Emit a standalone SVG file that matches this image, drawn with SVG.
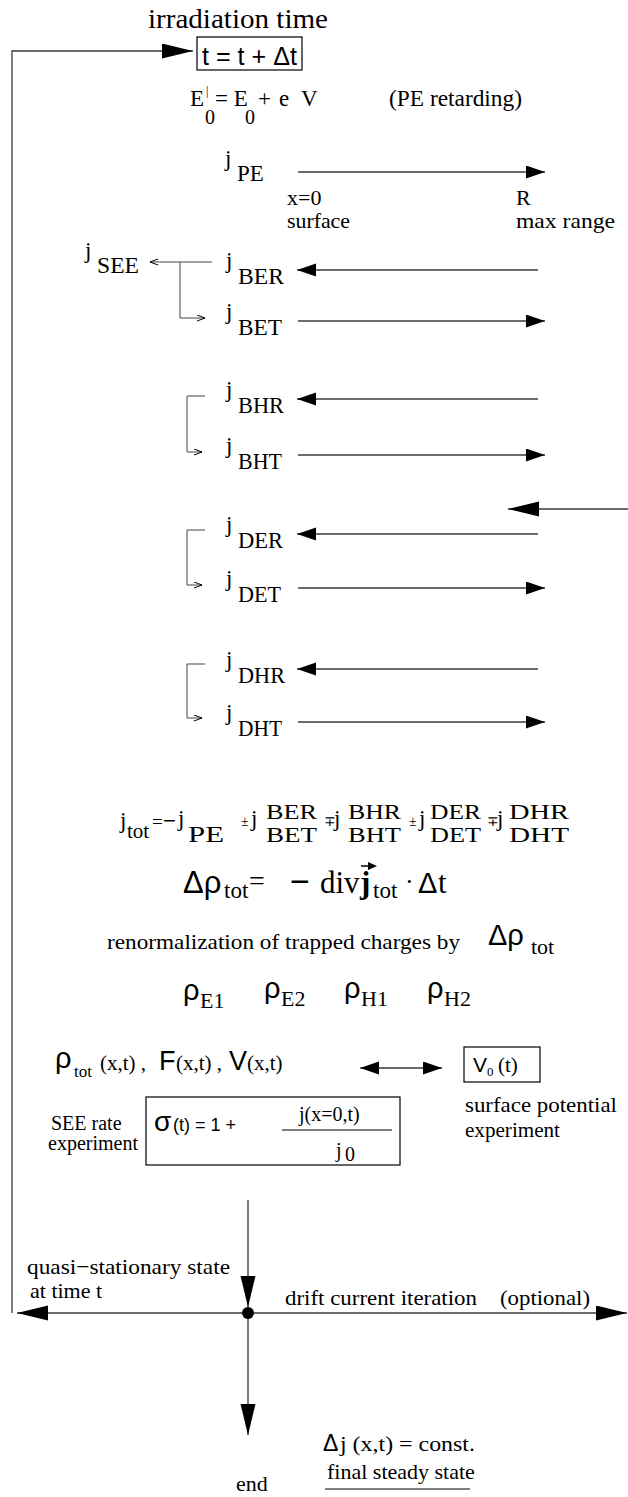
<svg xmlns="http://www.w3.org/2000/svg" width="628" height="1497" viewBox="0 0 628 1497">
<style>
.s{font-family:"Liberation Serif","Times New Roman",serif;fill:#000}
.h{font-family:"Liberation Sans",Arial,sans-serif;fill:#000}
.ln{stroke:#3a3a3a;stroke-width:1.3;fill:none}
.tn{stroke:#444;stroke-width:1;fill:none}
</style>
<defs>
<marker id="ah" markerUnits="userSpaceOnUse" markerWidth="20" markerHeight="14" refX="19" refY="6.5" orient="auto"><path d="M0,0 L19,6.5 L0,13 Z" fill="#000"/></marker>
<marker id="big" markerUnits="userSpaceOnUse" markerWidth="32" markerHeight="16" refX="31" refY="7.5" orient="auto"><path d="M0,0 L31,7.5 L0,15 Z" fill="#000"/></marker>
<marker id="sm" markerUnits="userSpaceOnUse" markerWidth="10" markerHeight="8" refX="8" refY="3.5" orient="auto"><path d="M0,0.5 L8,3.5 L0,6.5" fill="none" stroke="#000" stroke-width="1"/></marker>
</defs>

<g id="connectors">
<path class="ln" d="M12,1313 V51 H193" marker-end="url(#big)"/>
<line class="ln" x1="298" y1="172" x2="545" y2="172" marker-end="url(#ah)"/>
<line class="tn" x1="212" y1="262" x2="150" y2="262" marker-end="url(#sm)"/>
<path class="tn" d="M180,262 V318 H205" marker-end="url(#sm)"/>
<line class="ln" x1="538" y1="270" x2="297" y2="270" marker-end="url(#ah)"/>
<line class="ln" x1="298" y1="321" x2="545" y2="321" marker-end="url(#ah)"/>
<path class="tn" d="M205,396 H187 V452 H202" marker-end="url(#sm)"/>
<line class="ln" x1="538" y1="399" x2="297" y2="399" marker-end="url(#ah)"/>
<line class="ln" x1="298" y1="455" x2="545" y2="455" marker-end="url(#ah)"/>
<line class="ln" x1="628" y1="509" x2="508" y2="509" marker-end="url(#big)"/>
<path class="tn" d="M205,530 H187 V585 H202" marker-end="url(#sm)"/>
<line class="ln" x1="538" y1="534" x2="297" y2="534" marker-end="url(#ah)"/>
<line class="ln" x1="298" y1="588" x2="545" y2="588" marker-end="url(#ah)"/>
<path class="tn" d="M205,664 H187 V718 H202" marker-end="url(#sm)"/>
<line class="ln" x1="538" y1="669" x2="297" y2="669" marker-end="url(#ah)"/>
<line class="ln" x1="298" y1="722" x2="545" y2="722" marker-end="url(#ah)"/>
<line class="ln" x1="380" y1="1068" x2="360" y2="1068" marker-end="url(#ah)"/>
<line class="ln" x1="378" y1="1068" x2="442" y2="1068" marker-end="url(#ah)"/>
<line class="ln" x1="248" y1="1200" x2="248" y2="1307" marker-end="url(#big)"/>
<line class="ln" x1="248" y1="1313" x2="17" y2="1313" marker-end="url(#big)"/>
<line class="ln" x1="248" y1="1313" x2="627" y2="1313" marker-end="url(#big)"/>
<line class="ln" x1="248" y1="1313" x2="248" y2="1435" marker-end="url(#big)"/>
<circle cx="248" cy="1313" r="6" fill="#000"/>
</g>

<g id="title">
<text class="s" x="148" y="28" font-size="28" textLength="180" lengthAdjust="spacingAndGlyphs">irradiation time</text>
</g>
<g id="timestep">
<rect x="197" y="37" width="105" height="33" fill="none" stroke="#000" stroke-width="1.2"/>
<text class="h" x="202" y="65" font-size="25" textLength="95" lengthAdjust="spacingAndGlyphs">t = t + Δt</text>
</g>
<g id="energy">
<text class="s" x="190" y="106" font-size="23">E</text>
<text class="s" x="206" y="95" font-size="12">|</text>
<text class="s" x="205" y="124" font-size="20">0</text>
<text class="s" x="215" y="106" font-size="23">= E</text>
<text class="s" x="245" y="124" font-size="20">0</text>
<text class="s" x="258" y="106" font-size="23">+</text>
<text class="s" x="279" y="106" font-size="23">e</text>
<text class="s" x="301" y="106" font-size="23">V</text>
<text class="s" x="389" y="106" font-size="23" textLength="133" lengthAdjust="spacingAndGlyphs">(PE retarding)</text>
</g>
<g id="jPE">
<text class="s" x="225" y="166" font-size="23">j</text>
<text class="s" x="237" y="181" font-size="23">PE</text>
<text class="s" x="287" y="205" font-size="22">x=0</text>
<text class="s" x="287" y="228" font-size="22" textLength="63" lengthAdjust="spacingAndGlyphs">surface</text>
<text class="s" x="516" y="205" font-size="22">R</text>
<text class="s" x="516" y="228" font-size="22" textLength="99" lengthAdjust="spacingAndGlyphs">max range</text>
</g>
<g id="jSEE">
<text class="s" x="85" y="258" font-size="23">j</text>
<text class="s" x="97" y="273" font-size="23" textLength="42" lengthAdjust="spacingAndGlyphs">SEE</text>
</g>
<g id="jBER"><text class="s" x="226" y="268" font-size="23">j</text><text class="s" x="238" y="284" font-size="23" textLength="46" lengthAdjust="spacingAndGlyphs">BER</text></g>
<g id="jBET"><text class="s" x="226" y="319" font-size="23">j</text><text class="s" x="238" y="335" font-size="23" textLength="44" lengthAdjust="spacingAndGlyphs">BET</text></g>
<g id="jBHR"><text class="s" x="226" y="397" font-size="23">j</text><text class="s" x="238" y="413" font-size="23" textLength="46" lengthAdjust="spacingAndGlyphs">BHR</text></g>
<g id="jBHT"><text class="s" x="226" y="453" font-size="23">j</text><text class="s" x="238" y="469" font-size="23" textLength="44" lengthAdjust="spacingAndGlyphs">BHT</text></g>
<g id="jDER"><text class="s" x="226" y="532" font-size="23">j</text><text class="s" x="238" y="548" font-size="23" textLength="45" lengthAdjust="spacingAndGlyphs">DER</text></g>
<g id="jDET"><text class="s" x="226" y="586" font-size="23">j</text><text class="s" x="238" y="602" font-size="23" textLength="43" lengthAdjust="spacingAndGlyphs">DET</text></g>
<g id="jDHR"><text class="s" x="226" y="667" font-size="23">j</text><text class="s" x="238" y="683" font-size="23" textLength="47" lengthAdjust="spacingAndGlyphs">DHR</text></g>
<g id="jDHT"><text class="s" x="226" y="720" font-size="23">j</text><text class="s" x="238" y="736" font-size="23" textLength="44" lengthAdjust="spacingAndGlyphs">DHT</text></g>

<g id="jtot">
<text class="s" x="120" y="828" font-size="23">j</text>
<text class="s" x="127" y="838" font-size="21">tot</text>
<text class="s" x="152" y="828" font-size="19">=</text>
<text class="h" x="163" y="828" font-size="22">−</text>
<text class="s" x="178" y="826" font-size="23">j</text>
<text class="s" x="188" y="842" font-size="24" textLength="36" lengthAdjust="spacingAndGlyphs">PE</text>
<text class="s" x="241" y="826" font-size="14">±</text>
<text class="s" x="251" y="826" font-size="23">j</text>
<text class="s" x="266" y="819" font-size="22" textLength="51" lengthAdjust="spacingAndGlyphs">BER</text>
<text class="s" x="266" y="842" font-size="22" textLength="51" lengthAdjust="spacingAndGlyphs">BET</text>
<text class="s" x="324" y="826" font-size="14">∓</text>
<text class="s" x="334" y="826" font-size="23">j</text>
<text class="s" x="348" y="819" font-size="22" textLength="53" lengthAdjust="spacingAndGlyphs">BHR</text>
<text class="s" x="348" y="842" font-size="22" textLength="53" lengthAdjust="spacingAndGlyphs">BHT</text>
<text class="s" x="409" y="826" font-size="14">±</text>
<text class="s" x="419" y="826" font-size="23">j</text>
<text class="s" x="430" y="819" font-size="22" textLength="51" lengthAdjust="spacingAndGlyphs">DER</text>
<text class="s" x="430" y="842" font-size="22" textLength="51" lengthAdjust="spacingAndGlyphs">DET</text>
<text class="s" x="487" y="826" font-size="14">∓</text>
<text class="s" x="497" y="826" font-size="23">j</text>
<text class="s" x="509" y="819" font-size="22" textLength="60" lengthAdjust="spacingAndGlyphs">DHR</text>
<text class="s" x="509" y="842" font-size="22" textLength="60" lengthAdjust="spacingAndGlyphs">DHT</text>
</g>

<g id="drho">
<text class="h" x="183" y="893" font-size="31">Δρ</text>
<text class="s" x="224" y="898" font-size="23">tot</text>
<text class="s" x="249" y="890" font-size="28">=</text>
<text class="h" x="290" y="893" font-size="34">−</text>
<text class="s" x="320" y="893" font-size="31">div</text>
<text class="s" x="360" y="893" font-size="31" font-weight="bold">j</text>
<line x1="361" y1="866" x2="370" y2="866" stroke="#000" stroke-width="1.5"/>
<path d="M368,862 L377,866 L368,870 Z" fill="#000"/>
<text class="s" x="373" y="898" font-size="23">tot</text>
<text class="s" x="405" y="890" font-size="26">·</text>
<text class="h" x="418" y="893" font-size="29">Δ</text>
<text class="s" x="438" y="893" font-size="31">t</text>
</g>

<g id="renorm">
<text class="s" x="107" y="949" font-size="22" textLength="353" lengthAdjust="spacingAndGlyphs">renormalization of trapped charges by</text>
<text class="h" x="488" y="945" font-size="29">Δρ</text>
<text class="s" x="531" y="954" font-size="22">tot</text>
</g>
<g id="rhoE1"><text class="h" x="183" y="1000" font-size="29">ρ</text><text class="s" x="200" y="1008" font-size="22">E1</text></g>
<g id="rhoE2"><text class="h" x="264" y="998" font-size="29">ρ</text><text class="s" x="281" y="1006" font-size="22">E2</text></g>
<g id="rhoH1"><text class="h" x="344" y="998" font-size="29">ρ</text><text class="s" x="361" y="1006" font-size="22">H1</text></g>
<g id="rhoH2"><text class="h" x="427" y="998" font-size="29">ρ</text><text class="s" x="444" y="1006" font-size="22">H2</text></g>

<g id="fields">
<text class="h" x="55" y="1068" font-size="29">ρ</text>
<text class="s" x="74" y="1077" font-size="17">tot</text>
<text class="s" x="100" y="1070" font-size="21">(x,t) ,</text>
<text class="h" x="159" y="1070" font-size="27">F</text>
<text class="s" x="176" y="1070" font-size="21">(x,t) ,</text>
<text class="h" x="229" y="1070" font-size="27">V</text>
<text class="s" x="247" y="1070" font-size="21">(x,t)</text>
</g>
<g id="V0">
<rect x="464" y="1047" width="76" height="35" fill="none" stroke="#000" stroke-width="1.2"/>
<text class="h" x="473" y="1072" font-size="21">V</text>
<text class="s" x="487" y="1076" font-size="13">0</text>
<text class="s" x="498" y="1072" font-size="21">(t)</text>
<text class="s" x="465" y="1112" font-size="22" textLength="152" lengthAdjust="spacingAndGlyphs">surface potential</text>
<text class="s" x="465" y="1137" font-size="22" textLength="95" lengthAdjust="spacingAndGlyphs">experiment</text>
</g>
<g id="sigma">
<text class="s" x="51" y="1130" font-size="20">SEE rate</text>
<text class="s" x="48" y="1150" font-size="20">experiment</text>
<rect x="146" y="1097" width="254" height="68" fill="none" stroke="#000" stroke-width="1.2"/>
<text class="h" x="154" y="1131" font-size="28">σ</text>
<text class="h" x="173" y="1131" font-size="18">(t) = 1 +</text>
<text class="s" x="299" y="1121" font-size="20">j(x=0,t)</text>
<line x1="282" y1="1130" x2="392" y2="1130" stroke="#000" stroke-width="1"/>
<text class="s" x="336" y="1157" font-size="20">j</text>
<text class="s" x="345" y="1161" font-size="20">0</text>
</g>

<g id="bottom">
<text class="s" x="27" y="1274" font-size="22" textLength="203" lengthAdjust="spacingAndGlyphs">quasi−stationary state</text>
<text class="s" x="30" y="1298" font-size="22">at time t</text>
<text class="s" x="285" y="1305" font-size="22" textLength="192" lengthAdjust="spacingAndGlyphs">drift current iteration</text>
<text class="s" x="500" y="1305" font-size="22" textLength="90" lengthAdjust="spacingAndGlyphs">(optional)</text>
<text class="h" x="323" y="1451" font-size="23">Δ</text>
<text class="s" x="340" y="1451" font-size="22" textLength="135" lengthAdjust="spacingAndGlyphs">j (x,t) = const.</text>
<text class="s" x="327" y="1479" font-size="22">final steady state</text>
<line x1="325" y1="1489" x2="470" y2="1489" stroke="#000" stroke-width="1"/>
<text class="s" x="236" y="1491" font-size="22">end</text>
</g>
</svg>
